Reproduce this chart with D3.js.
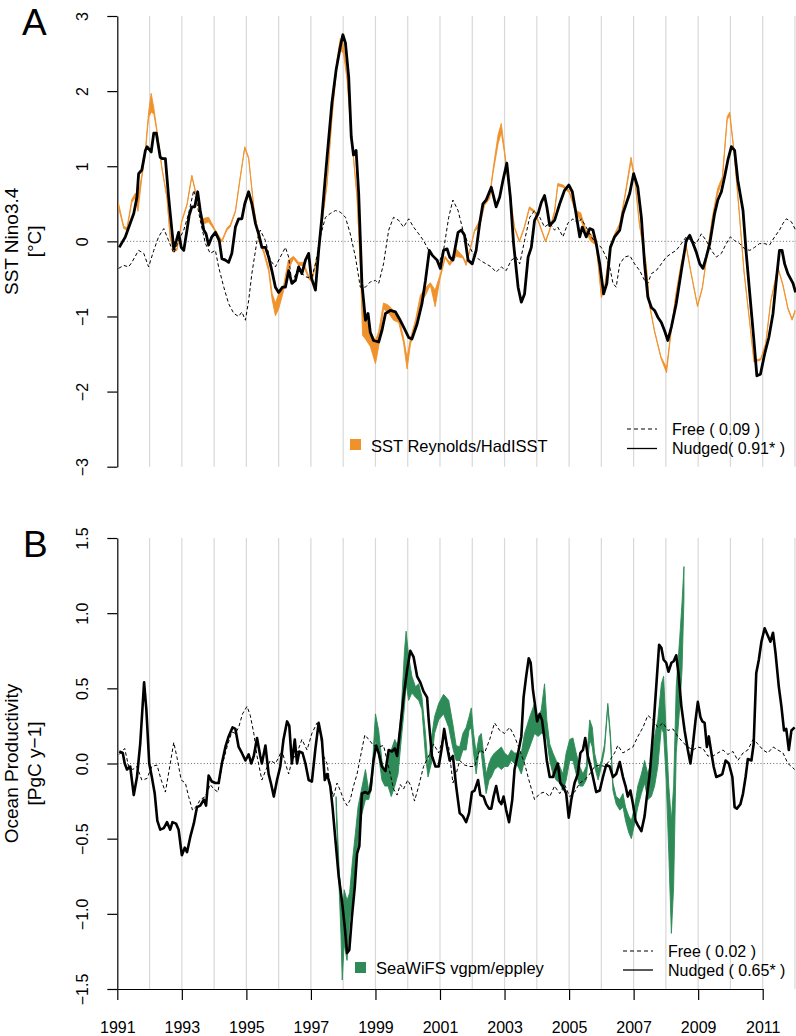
<!DOCTYPE html>
<html><head><meta charset="utf-8">
<script src="https://cdn.jsdelivr.net/npm/d3@7"></script>
<style>
body{margin:0;background:#fff}
svg{display:block}
text{font-family:"Liberation Sans",Arial,Helvetica,sans-serif;fill:#000}
</style></head>
<body><svg id="c" width="796" height="1036"></svg>
<script>
// ---------------- DATA ----------------
const yearGrid = [1992,1993,1994,1995,1996,1997,1998,1999,2000,2001,2002,2003,2004,2005,2006,2007,2008,2009,2010,2011,2012];
const xTickYears = [1991,1993,1995,1997,1999,2001,2003,2005,2007,2009,2011];
const sstTicks = [-3,-2,-1,0,1,2,3];
const nppTicks = [-1.5,-1.0,-0.5,0.0,0.5,1.0,1.5];

// Panel A: observed SST (two products), band between them
const sstTime = [1991.04,1991.20,1991.30,1991.45,1991.56,1991.64,1991.76,1991.87,1991.97,1992.05,
1992.13,1992.23,1992.38,1992.54,1992.64,1992.75,1992.85,1993.00,1993.16,1993.31,
1993.47,1993.62,1993.83,1994.04,1994.24,1994.40,1994.50,1994.66,1994.81,1994.95,
1995.07,1995.23,1995.38,1995.54,1995.69,1995.80,1995.90,1996.00,1996.14,1996.30,
1996.46,1996.62,1996.77,1996.93,1997.03,1997.19,1997.34,1997.50,1997.65,1997.81,
1997.91,1998.01,1998.12,1998.22,1998.32,1998.43,1998.53,1998.60,1998.69,1998.84,
1999.00,1999.10,1999.25,1999.40,1999.56,1999.72,1999.87,1999.98,2000.08,2000.24,
2000.39,2000.55,2000.70,2000.85,2001.00,2001.16,2001.30,2001.50,2001.71,2001.81,
2001.92,2002.07,2002.23,2002.38,2002.54,2002.64,2002.80,2002.90,2003.00,2003.10,
2003.21,2003.31,2003.46,2003.61,2003.77,2003.93,2004.08,2004.27,2004.39,2004.55,
2004.65,2004.81,2005.00,2005.21,2005.36,2005.52,2005.67,2005.84,2006.00,2006.10,
2006.25,2006.41,2006.57,2006.72,2006.92,2007.03,2007.18,2007.28,2007.39,2007.49,
2007.65,2007.85,2008.02,2008.15,2008.31,2008.47,2008.62,2008.77,2008.98,2009.13,
2009.29,2009.44,2009.60,2009.75,2009.90,2009.98,2010.11,2010.27,2010.42,2010.58,
2010.73,2010.94,2011.09,2011.25,2011.47,2011.62,2011.78,2011.91,2012.00];
const sstReynolds = [0.50,0.20,0.18,0.56,0.64,0.60,0.88,1.22,1.72,1.97,
1.78,1.48,0.99,0.59,0.06,-0.10,-0.10,0.28,0.50,0.88,
0.59,0.30,0.32,0.15,0.01,0.18,0.22,0.41,0.86,1.26,
1.12,0.46,0.06,-0.12,-0.34,-0.70,-0.82,-0.70,-0.62,-0.25,
-0.20,-0.28,-0.28,-0.46,-0.50,-0.20,0.25,0.78,1.66,2.42,
2.70,2.62,2.20,1.62,1.12,0.59,-0.28,-0.90,-1.00,-1.20,
-1.32,-1.20,-0.82,-0.85,-0.92,-1.00,-1.28,-1.55,-1.30,-1.05,
-0.72,-0.62,-0.55,-0.65,-0.45,-0.20,-0.28,-0.10,-0.20,-0.28,
-0.12,0.15,0.28,0.50,0.62,0.95,1.42,1.57,1.21,0.86,
0.50,0.19,0.01,0.19,0.46,0.41,0.24,0.01,0.15,0.41,
0.77,0.75,0.68,0.41,0.38,0.15,0.10,-0.03,-0.68,-0.61,
-0.12,0.10,0.24,0.59,1.12,0.86,0.24,-0.03,-0.30,-0.83,
-1.19,-1.54,-1.68,-1.23,-0.70,-0.30,-0.03,-0.39,-0.85,-0.61,
-0.12,0.32,0.70,0.86,1.66,1.72,1.21,0.41,-0.39,-1.00,
-1.59,-1.56,-1.36,-0.79,-0.34,-0.56,-0.88,-1.03,-0.92];
const sstHadISST = [0.45,0.17,0.15,0.52,0.58,0.40,0.84,1.18,1.65,1.72,
1.70,1.45,0.97,0.57,0.04,-0.14,-0.12,0.26,0.48,0.86,
0.56,0.22,0.26,0.13,-0.01,0.15,0.19,0.39,0.84,1.24,
1.10,0.44,0.02,-0.16,-0.40,-0.78,-0.99,-0.90,-0.68,-0.38,
-0.23,-0.32,-0.32,-0.50,-0.54,-0.23,0.22,0.75,1.62,2.35,
2.55,2.50,2.15,1.58,1.10,0.57,-0.32,-1.25,-1.30,-1.40,
-1.63,-1.40,-0.90,-0.95,-1.05,-1.08,-1.35,-1.70,-1.38,-1.12,
-0.82,-0.72,-0.58,-0.87,-0.50,-0.22,-0.32,-0.20,-0.22,-0.32,
-0.14,0.13,0.20,0.48,0.57,0.90,1.30,1.45,1.17,0.83,
0.48,0.17,-0.01,0.17,0.43,0.38,0.22,-0.01,0.13,0.38,
0.74,0.72,0.65,0.38,0.28,0.13,0.00,-0.05,-0.75,-0.65,
-0.15,0.08,0.22,0.56,1.06,0.84,0.22,-0.05,-0.32,-0.85,
-1.21,-1.56,-1.75,-1.25,-0.72,-0.32,-0.05,-0.41,-0.87,-0.63,
-0.14,0.30,0.62,0.82,1.62,1.68,1.19,0.39,-0.41,-1.02,
-1.61,-1.58,-1.38,-0.81,-0.36,-0.58,-0.90,-1.05,-0.94];

// Panel A: model runs [year, value]
const nudgedSst = [[1991.06,-0.08],[1991.25,0.06],[1991.40,0.24],[1991.51,0.37],[1991.61,0.59],[1991.66,0.90],[1991.76,0.95],[1991.87,1.21],[1991.92,1.26],[1992.05,1.19],[1992.13,1.44],[1992.21,1.44],[1992.33,1.12],[1992.40,1.10],[1992.49,1.10],[1992.59,0.59],[1992.67,0.24],[1992.75,-0.10],[1992.83,0.01],[1992.90,0.12],[1992.98,-0.08],[1993.06,-0.12],[1993.16,0.15],[1993.23,0.35],[1993.31,0.46],[1993.40,0.46],[1993.49,0.66],[1993.57,0.41],[1993.68,0.15],[1993.75,0.10],[1993.83,-0.05],[1993.93,0.06],[1994.04,0.12],[1994.16,0.01],[1994.24,-0.23],[1994.35,-0.25],[1994.45,-0.28],[1994.55,-0.16],[1994.66,0.19],[1994.76,0.30],[1994.86,0.30],[1994.95,0.50],[1995.07,0.66],[1995.17,0.50],[1995.28,0.24],[1995.38,0.10],[1995.48,-0.08],[1995.59,-0.08],[1995.69,-0.21],[1995.79,-0.39],[1995.90,-0.61],[1996.00,-0.68],[1996.12,-0.61],[1996.21,-0.61],[1996.31,-0.39],[1996.41,-0.56],[1996.52,-0.52],[1996.62,-0.34],[1996.72,-0.43],[1996.83,-0.25],[1996.93,-0.16],[1997.01,-0.48],[1997.14,-0.65],[1997.24,-0.12],[1997.34,0.32],[1997.50,1.12],[1997.65,1.84],[1997.78,2.28],[1997.91,2.59],[1997.99,2.75],[1998.07,2.64],[1998.17,2.19],[1998.25,1.39],[1998.32,1.15],[1998.40,1.21],[1998.48,0.64],[1998.58,-0.56],[1998.69,-1.05],[1998.77,-0.96],[1998.84,-1.21],[1998.94,-1.32],[1999.10,-1.34],[1999.20,-1.19],[1999.31,-0.96],[1999.46,-0.92],[1999.62,-0.94],[1999.74,-1.03],[1999.87,-1.14],[2000.03,-1.28],[2000.13,-1.30],[2000.29,-1.10],[2000.44,-0.83],[2000.55,-0.52],[2000.67,-0.12],[2000.77,-0.19],[2000.91,-0.25],[2001.01,-0.36],[2001.11,-0.12],[2001.22,-0.10],[2001.30,-0.21],[2001.40,-0.25],[2001.56,0.12],[2001.66,0.15],[2001.76,0.08],[2001.87,-0.25],[2002.00,-0.30],[2002.12,-0.12],[2002.23,0.24],[2002.33,0.50],[2002.43,0.55],[2002.59,0.72],[2002.74,0.46],[2002.85,0.59],[2002.95,0.81],[2003.07,1.04],[2003.18,0.59],[2003.28,-0.03],[2003.42,-0.61],[2003.52,-0.81],[2003.62,-0.70],[2003.73,-0.21],[2003.83,-0.08],[2003.93,0.28],[2004.04,0.37],[2004.14,0.52],[2004.24,0.61],[2004.31,0.46],[2004.40,0.21],[2004.55,0.28],[2004.71,0.50],[2004.86,0.68],[2004.99,0.75],[2005.10,0.66],[2005.20,0.41],[2005.33,0.06],[2005.41,0.19],[2005.53,0.06],[2005.64,0.17],[2005.74,0.15],[2005.84,-0.03],[2005.95,-0.30],[2006.07,-0.70],[2006.17,-0.56],[2006.28,-0.08],[2006.41,0.06],[2006.57,0.15],[2006.67,0.37],[2006.77,0.50],[2006.88,0.64],[2007.00,0.90],[2007.13,0.72],[2007.24,0.32],[2007.34,-0.30],[2007.44,-0.74],[2007.55,-0.88],[2007.65,-0.92],[2007.75,-1.01],[2007.86,-1.08],[2007.96,-1.19],[2008.06,-1.32],[2008.17,-1.14],[2008.32,-0.83],[2008.48,-0.39],[2008.63,0.01],[2008.74,0.08],[2008.84,-0.03],[2008.94,-0.14],[2009.05,-0.30],[2009.15,-0.36],[2009.25,-0.21],[2009.36,-0.03],[2009.51,0.37],[2009.61,0.55],[2009.72,0.66],[2009.82,0.86],[2009.92,1.08],[2010.03,1.26],[2010.13,1.21],[2010.23,0.81],[2010.39,0.41],[2010.49,-0.16],[2010.60,-0.70],[2010.72,-1.28],[2010.82,-1.79],[2010.93,-1.77],[2011.06,-1.50],[2011.19,-1.28],[2011.32,-0.96],[2011.43,-0.48],[2011.52,-0.12],[2011.60,-0.12],[2011.68,-0.30],[2011.78,-0.43],[2011.94,-0.56],[2012.02,-0.68]];

const freeSst = [[1991.04,-0.36],[1991.20,-0.32],[1991.35,-0.34],[1991.45,-0.28],[1991.66,-0.12],[1991.82,-0.16],[1991.97,-0.34],[1992.13,-0.12],[1992.28,0.06],[1992.44,0.17],[1992.59,0.01],[1992.75,-0.16],[1992.90,0.01],[1993.06,0.15],[1993.21,0.37],[1993.37,0.68],[1993.47,0.50],[1993.57,0.28],[1993.73,-0.03],[1993.88,-0.16],[1994.04,-0.12],[1994.14,-0.34],[1994.30,-0.61],[1994.45,-0.83],[1994.61,-0.96],[1994.76,-1.00],[1994.86,-0.94],[1994.97,-1.05],[1995.07,-0.79],[1995.17,-0.43],[1995.33,0.01],[1995.43,0.15],[1995.59,0.01],[1995.74,-0.25],[1995.90,-0.34],[1996.05,-0.21],[1996.21,-0.08],[1996.31,-0.21],[1996.41,-0.56],[1996.57,-0.39],[1996.72,-0.43],[1996.88,-0.48],[1997.03,-0.48],[1997.14,-0.30],[1997.29,0.06],[1997.45,0.32],[1997.60,0.37],[1997.76,0.41],[1997.91,0.39],[1998.07,0.32],[1998.22,0.10],[1998.38,-0.21],[1998.53,-0.61],[1998.69,-0.61],[1998.84,-0.54],[1999.00,-0.52],[1999.10,-0.56],[1999.25,-0.30],[1999.41,0.15],[1999.56,0.32],[1999.72,0.28],[1999.87,0.19],[2000.03,0.30],[2000.18,0.19],[2000.34,0.10],[2000.49,0.01],[2000.65,-0.12],[2000.80,-0.21],[2000.96,-0.30],[2001.11,-0.12],[2001.27,0.32],[2001.40,0.55],[2001.56,0.41],[2001.71,0.15],[2001.87,-0.03],[2002.02,-0.16],[2002.23,-0.25],[2002.43,-0.30],[2002.59,-0.34],[2002.74,-0.41],[2002.90,-0.34],[2003.05,-0.39],[2003.21,-0.25],[2003.36,-0.21],[2003.47,-0.30],[2003.62,0.01],[2003.78,0.32],[2003.93,0.41],[2004.09,0.32],[2004.24,0.19],[2004.40,0.24],[2004.55,0.15],[2004.65,0.19],[2004.81,0.06],[2004.96,0.24],[2005.12,0.30],[2005.27,0.24],[2005.38,0.30],[2005.53,0.19],[2005.69,0.06],[2005.84,-0.03],[2006.00,-0.08],[2006.15,-0.21],[2006.26,-0.34],[2006.36,-0.56],[2006.46,-0.61],[2006.57,-0.30],[2006.72,-0.21],[2006.88,-0.19],[2007.03,-0.30],[2007.19,-0.39],[2007.34,-0.52],[2007.44,-0.56],[2007.55,-0.43],[2007.70,-0.39],[2007.86,-0.30],[2008.01,-0.21],[2008.17,-0.16],[2008.32,-0.12],[2008.48,-0.03],[2008.63,0.06],[2008.79,0.01],[2008.94,-0.03],[2009.10,0.10],[2009.25,0.01],[2009.41,-0.12],[2009.56,-0.21],[2009.72,-0.16],[2009.87,-0.03],[2010.00,0.06],[2010.13,0.01],[2010.29,-0.03],[2010.44,-0.10],[2010.60,-0.12],[2010.75,-0.08],[2010.90,-0.03],[2011.06,-0.03],[2011.21,-0.05],[2011.37,0.06],[2011.52,0.15],[2011.63,0.24],[2011.73,0.30],[2011.89,0.26],[2012.02,0.15]];

// Panel B: observed productivity band [year, high, low]
const seawifs = [[1997.78,-0.22,-0.30],[1997.88,-0.73,-0.86],[1997.93,-0.84,-1.13],[1997.97,-1.04,-1.44],[1998.03,-0.84,-1.20],[1998.12,-0.91,-1.31],[1998.20,-0.86,-1.04],[1998.29,-0.64,-0.91],[1998.38,-0.46,-0.69],[1998.46,-0.29,-0.51],[1998.56,-0.18,-0.35],[1998.69,-0.04,-0.24],[1998.79,-0.18,-0.24],[1998.89,-0.07,-0.15],[1999.00,0.33,0.16],[1999.10,0.22,0.05],[1999.20,0.02,-0.11],[1999.29,-0.07,-0.15],[1999.39,0.05,-0.15],[1999.49,0.09,-0.22],[1999.60,0.16,-0.15],[1999.70,0.11,-0.07],[1999.80,0.36,0.16],[1999.90,0.75,0.38],[1999.95,0.88,0.53],[2000.03,0.71,0.42],[2000.13,0.58,0.47],[2000.24,0.51,0.44],[2000.34,0.53,0.42],[2000.44,0.44,0.36],[2000.55,0.20,0.05],[2000.63,-0.02,-0.09],[2000.73,0.16,0.00],[2000.83,0.31,0.20],[2000.96,0.40,0.29],[2001.11,0.46,0.33],[2001.27,0.42,0.24],[2001.40,0.26,0.10],[2001.50,0.12,0.02],[2001.61,0.11,0.02],[2001.71,0.20,0.09],[2001.81,0.24,0.09],[2001.90,0.31,0.22],[2001.97,0.37,0.24],[2002.04,0.20,0.07],[2002.12,0.07,-0.07],[2002.21,0.18,0.09],[2002.28,0.20,0.07],[2002.35,0.07,-0.07],[2002.43,-0.07,-0.20],[2002.52,0.00,-0.11],[2002.59,0.04,-0.09],[2002.69,0.07,-0.04],[2002.80,0.09,-0.02],[2002.90,0.11,-0.04],[2003.00,0.07,-0.02],[2003.11,0.05,-0.02],[2003.21,0.09,0.02],[2003.31,0.07,0.00],[2003.42,0.07,-0.02],[2003.52,0.07,-0.07],[2003.62,0.20,0.02],[2003.78,0.31,0.11],[2003.93,0.40,0.20],[2004.04,0.29,0.18],[2004.14,0.36,0.20],[2004.24,0.53,0.20],[2004.31,0.29,0.16],[2004.40,0.13,0.02],[2004.50,0.07,-0.07],[2004.60,0.02,-0.11],[2004.71,-0.02,-0.13],[2004.81,-0.07,-0.18],[2004.91,0.07,-0.11],[2005.02,0.16,0.02],[2005.12,0.17,0.02],[2005.22,0.07,-0.07],[2005.33,-0.02,-0.15],[2005.43,-0.07,-0.15],[2005.53,-0.02,-0.11],[2005.64,0.29,0.16],[2005.72,0.24,0.11],[2005.79,0.07,-0.02],[2005.90,-0.04,-0.11],[2006.00,0.02,-0.02],[2006.10,0.13,0.09],[2006.20,0.40,0.38],[2006.28,0.20,0.16],[2006.36,-0.13,-0.18],[2006.46,-0.22,-0.27],[2006.57,-0.24,-0.31],[2006.67,-0.20,-0.29],[2006.75,-0.29,-0.38],[2006.85,-0.35,-0.46],[2006.93,-0.38,-0.50],[2007.03,-0.29,-0.40],[2007.13,-0.15,-0.29],[2007.24,-0.07,-0.20],[2007.34,0.02,-0.13],[2007.44,-0.07,-0.24],[2007.55,0.02,-0.22],[2007.65,0.18,-0.15],[2007.75,0.29,-0.02],[2007.86,0.53,0.24],[2007.93,0.58,0.20],[2008.01,0.20,-0.11],[2008.09,-0.15,-0.60],[2008.17,-0.38,-1.13],[2008.24,-0.15,-0.82],[2008.32,0.51,0.07],[2008.43,0.84,0.38],[2008.50,1.07,0.62],[2008.56,1.31,1.10]];

const nudgedNpp = [[1991.06,0.08],[1991.17,0.07],[1991.23,0.00],[1991.30,-0.04],[1991.40,-0.02],[1991.51,-0.21],[1991.61,-0.09],[1991.71,0.13],[1991.83,0.54],[1991.90,0.36],[1991.99,0.00],[1992.07,-0.09],[1992.16,-0.20],[1992.24,-0.38],[1992.33,-0.44],[1992.44,-0.43],[1992.54,-0.39],[1992.64,-0.44],[1992.71,-0.39],[1992.82,-0.40],[1992.90,-0.44],[1993.00,-0.61],[1993.09,-0.56],[1993.16,-0.59],[1993.26,-0.49],[1993.37,-0.40],[1993.47,-0.29],[1993.57,-0.28],[1993.68,-0.24],[1993.75,-0.28],[1993.83,-0.08],[1993.93,-0.12],[1994.04,-0.13],[1994.14,-0.13],[1994.24,0.00],[1994.35,0.11],[1994.45,0.18],[1994.57,0.24],[1994.66,0.23],[1994.76,0.11],[1994.86,0.07],[1994.97,0.02],[1995.07,0.06],[1995.15,0.00],[1995.23,0.05],[1995.33,0.17],[1995.43,0.05],[1995.48,0.00],[1995.59,0.12],[1995.69,-0.07],[1995.77,-0.14],[1995.85,-0.22],[1995.95,-0.11],[1996.05,-0.02],[1996.15,0.16],[1996.26,0.28],[1996.33,0.25],[1996.41,0.00],[1996.50,0.16],[1996.57,0.00],[1996.64,0.08],[1996.74,0.07],[1996.83,0.00],[1996.93,-0.11],[1997.03,-0.12],[1997.14,0.10],[1997.24,0.27],[1997.34,0.16],[1997.43,-0.11],[1997.50,-0.07],[1997.60,-0.15],[1997.67,-0.29],[1997.76,-0.51],[1997.86,-0.75],[1997.96,-0.91],[1998.05,-1.09],[1998.12,-1.26],[1998.19,-1.24],[1998.27,-1.02],[1998.36,-0.82],[1998.43,-0.60],[1998.50,-0.55],[1998.58,-0.20],[1998.69,-0.19],[1998.77,-0.20],[1998.84,-0.18],[1998.94,0.02],[1999.02,0.12],[1999.10,0.07],[1999.20,-0.02],[1999.31,-0.05],[1999.41,0.09],[1999.51,0.08],[1999.60,0.10],[1999.67,0.05],[1999.77,0.24],[1999.87,0.44],[1999.98,0.62],[2000.08,0.75],[2000.18,0.71],[2000.29,0.58],[2000.39,0.54],[2000.49,0.48],[2000.60,0.44],[2000.65,0.29],[2000.75,0.05],[2000.86,-0.02],[2000.96,-0.02],[2001.06,0.11],[2001.13,0.23],[2001.22,0.11],[2001.30,0.02],[2001.40,0.05],[2001.50,-0.15],[2001.61,-0.33],[2001.71,-0.35],[2001.81,-0.39],[2001.90,-0.33],[2001.99,-0.19],[2002.07,-0.18],[2002.18,-0.11],[2002.25,-0.21],[2002.35,-0.22],[2002.43,-0.27],[2002.52,-0.30],[2002.59,-0.30],[2002.66,-0.22],[2002.74,-0.15],[2002.83,-0.25],[2002.90,-0.27],[2002.97,-0.22],[2003.05,-0.31],[2003.14,-0.39],[2003.24,-0.24],[2003.31,-0.04],[2003.42,0.07],[2003.52,0.18],[2003.59,0.44],[2003.67,0.58],[2003.75,0.70],[2003.81,0.67],[2003.88,0.49],[2003.95,0.38],[2004.01,0.28],[2004.09,0.33],[2004.16,0.29],[2004.24,0.16],[2004.31,0.02],[2004.40,-0.09],[2004.50,-0.09],[2004.58,-0.04],[2004.65,0.00],[2004.73,-0.13],[2004.81,-0.15],[2004.91,-0.20],[2004.99,-0.36],[2005.07,-0.24],[2005.17,-0.13],[2005.27,-0.07],[2005.35,0.07],[2005.43,0.09],[2005.50,0.17],[2005.58,0.05],[2005.69,-0.04],[2005.76,-0.11],[2005.84,-0.19],[2005.95,-0.18],[2006.05,-0.09],[2006.15,-0.01],[2006.26,-0.02],[2006.36,-0.09],[2006.46,-0.07],[2006.57,0.01],[2006.67,-0.09],[2006.75,-0.15],[2006.82,-0.22],[2006.90,-0.18],[2006.98,-0.27],[2007.06,-0.38],[2007.13,-0.41],[2007.24,-0.45],[2007.34,-0.35],[2007.41,-0.22],[2007.50,-0.07],[2007.60,0.20],[2007.70,0.51],[2007.79,0.79],[2007.86,0.77],[2007.93,0.69],[2008.01,0.67],[2008.08,0.61],[2008.17,0.67],[2008.24,0.68],[2008.32,0.72],[2008.39,0.60],[2008.48,0.38],[2008.58,0.22],[2008.68,0.09],[2008.76,0.00],[2008.84,0.13],[2008.92,0.29],[2008.99,0.41],[2009.07,0.31],[2009.13,0.28],[2009.20,0.27],[2009.27,0.11],[2009.33,0.18],[2009.41,0.07],[2009.48,-0.02],[2009.56,-0.09],[2009.67,-0.08],[2009.75,-0.07],[2009.85,0.02],[2009.95,0.00],[2010.06,-0.09],[2010.13,-0.29],[2010.20,-0.30],[2010.31,-0.27],[2010.39,-0.20],[2010.47,-0.09],[2010.54,0.03],[2010.65,0.02],[2010.72,0.13],[2010.80,0.60],[2010.88,0.69],[2010.96,0.81],[2011.06,0.90],[2011.16,0.85],[2011.24,0.81],[2011.32,0.87],[2011.40,0.73],[2011.50,0.51],[2011.58,0.38],[2011.66,0.22],[2011.73,0.23],[2011.81,0.09],[2011.89,0.22],[2011.99,0.24]];

const freeNpp = [[1991.06,0.06],[1991.23,0.10],[1991.35,-0.02],[1991.48,-0.04],[1991.61,-0.02],[1991.76,-0.11],[1991.92,-0.10],[1992.07,-0.02],[1992.23,-0.01],[1992.36,-0.11],[1992.49,-0.19],[1992.61,-0.04],[1992.75,0.14],[1992.85,0.04],[1992.98,-0.11],[1993.11,-0.13],[1993.21,-0.22],[1993.33,-0.31],[1993.47,-0.28],[1993.57,-0.24],[1993.73,-0.22],[1993.88,-0.14],[1993.99,-0.17],[1994.12,-0.19],[1994.24,-0.02],[1994.40,0.11],[1994.55,0.21],[1994.66,0.20],[1994.76,0.24],[1994.88,0.33],[1995.02,0.38],[1995.12,0.32],[1995.23,0.20],[1995.33,0.05],[1995.48,-0.11],[1995.61,-0.04],[1995.74,0.02],[1995.90,0.00],[1996.00,0.04],[1996.10,0.09],[1996.21,0.00],[1996.31,-0.07],[1996.41,0.02],[1996.57,0.07],[1996.72,0.16],[1996.88,0.09],[1997.03,0.20],[1997.19,0.27],[1997.29,0.20],[1997.39,0.05],[1997.50,0.00],[1997.60,-0.15],[1997.70,-0.22],[1997.81,-0.13],[1997.91,-0.18],[1998.01,-0.24],[1998.12,-0.28],[1998.22,-0.24],[1998.32,-0.15],[1998.43,-0.07],[1998.53,0.04],[1998.67,0.19],[1998.79,0.16],[1998.94,0.12],[1999.10,0.11],[1999.25,0.12],[1999.36,0.02],[1999.46,-0.07],[1999.56,-0.17],[1999.67,-0.21],[1999.77,-0.14],[1999.87,-0.17],[2000.00,-0.11],[2000.10,-0.15],[2000.21,-0.25],[2000.34,-0.15],[2000.49,-0.02],[2000.65,0.05],[2000.80,0.13],[2000.96,0.07],[2001.11,0.18],[2001.27,0.11],[2001.40,-0.13],[2001.50,-0.07],[2001.61,0.02],[2001.76,-0.01],[2001.92,-0.02],[2002.07,-0.02],[2002.23,0.09],[2002.38,0.07],[2002.54,0.16],[2002.69,0.27],[2002.85,0.22],[2003.00,0.20],[2003.16,0.24],[2003.31,0.18],[2003.47,0.09],[2003.62,0.00],[2003.78,-0.13],[2003.93,-0.24],[2004.09,-0.20],[2004.24,-0.19],[2004.40,-0.22],[2004.55,-0.15],[2004.71,-0.20],[2004.86,-0.14],[2005.02,-0.22],[2005.17,-0.19],[2005.33,-0.13],[2005.48,-0.11],[2005.64,-0.07],[2005.79,-0.02],[2005.95,-0.01],[2006.10,-0.02],[2006.26,0.02],[2006.41,0.07],[2006.51,0.12],[2006.67,0.07],[2006.82,0.09],[2006.98,0.11],[2007.13,0.18],[2007.29,0.24],[2007.44,0.32],[2007.60,0.29],[2007.75,0.24],[2007.91,0.27],[2008.06,0.22],[2008.22,0.23],[2008.37,0.18],[2008.53,0.14],[2008.68,0.11],[2008.84,0.09],[2008.99,0.11],[2009.15,0.10],[2009.30,0.05],[2009.46,0.05],[2009.61,0.07],[2009.77,0.09],[2009.92,0.06],[2010.08,0.08],[2010.23,0.02],[2010.39,0.07],[2010.54,0.09],[2010.70,0.16],[2010.85,0.13],[2011.01,0.09],[2011.16,0.07],[2011.32,0.11],[2011.47,0.09],[2011.63,0.07],[2011.78,0.00],[2011.89,-0.02],[2011.99,-0.04]];

// ---------------- DRAWING ----------------
const ORANGE = "#F0922B", GREEN = "#2E8B57";
const svg = d3.select("#c");
const x = d3.scaleLinear().domain([1991, 2011]).range([117.3, 762.7]);
const yA = d3.scaleLinear().domain([-3, 3]).range([466.7, 16]);
const yB = d3.scaleLinear().domain([-1.5, 1.5]).range([989, 538]);

svg.append("defs").append("clipPath").attr("id","plotclip")
  .append("rect").attr("x",117.3).attr("y",0).attr("width",700).attr("height",1036);

function panel(y, ticks, fmt) {
  const g = svg.append("g");
  // vertical year grid
  g.selectAll("line.grid").data(yearGrid).join("line")
    .attr("x1", d => x(d)).attr("x2", d => x(d))
    .attr("y1", y.range()[1]).attr("y2", y.range()[0])
    .attr("stroke", "#d8d8d8").attr("stroke-width", 1.2);
  // zero line
  g.append("line").attr("x1", x(1991)).attr("x2", 796)
    .attr("y1", y(0)).attr("y2", y(0))
    .attr("stroke", "#555").attr("stroke-width", 0.9).attr("stroke-dasharray", "1,2.2");
  // y axis
  const ax = g.append("g").attr("transform", `translate(${x(1991)},0)`)
    .call(d3.axisLeft(y).tickValues(ticks).tickSize(10).tickSizeOuter(0).tickFormat(fmt));
  ax.select(".domain").attr("stroke", "#000").attr("stroke-width", 1.2);
  ax.selectAll(".tick line").attr("stroke", "#000").attr("stroke-width", 1.2);
  ax.selectAll(".tick text")
    .attr("x", 0).attr("dy", null).attr("y", -29.5)
    .attr("transform", "rotate(-90)")
    .attr("text-anchor", "middle")
    .style("font-family", '"Liberation Sans",Arial,Helvetica,sans-serif')
    .style("font-size", "16px");
  return g.append("g").attr("clip-path", "url(#plotclip)");
}

const minusFmt = s => s.replace("-", "\u2212");
const gA = panel(yA, sstTicks, d => minusFmt(d3.format("d")(d)));
const gB = panel(yB, nppTicks, d => minusFmt(d3.format(".1f")(d)));

// ---- Panel A marks ----
const sstRows = sstTime.map((t, i) => ({t, a: sstReynolds[i], b: sstHadISST[i]}));
gA.append("path").datum(sstRows)
  .attr("d", d3.area().x(d => x(d.t)).y0(d => yA(d.a)).y1(d => yA(d.b)))
  .attr("fill", ORANGE).attr("stroke", ORANGE).attr("stroke-width", 0.9).attr("stroke-linejoin","round");
const lineA = d3.line().x(d => x(d[0])).y(d => yA(d[1]));
gA.append("path").datum(freeSst).attr("d", lineA)
  .attr("fill", "none").attr("stroke", "#000").attr("stroke-width", 1).attr("stroke-dasharray", "3.5,2.5");
gA.append("path").datum(nudgedSst).attr("d", lineA)
  .attr("fill", "none").attr("stroke", "#000").attr("stroke-width", 2.8).attr("stroke-linejoin","round");

// ---- Panel B marks ----
gB.append("path").datum(seawifs)
  .attr("d", d3.area().x(d => x(d[0])).y0(d => yB(d[1])).y1(d => yB(d[2])))
  .attr("fill", GREEN).attr("stroke", GREEN).attr("stroke-width", 0.9).attr("stroke-linejoin","round");
const lineB = d3.line().x(d => x(d[0])).y(d => yB(d[1]));
gB.append("path").datum(freeNpp).attr("d", lineB)
  .attr("fill", "none").attr("stroke", "#000").attr("stroke-width", 1).attr("stroke-dasharray", "3.5,2.5");
gB.append("path").datum(nudgedNpp).attr("d", lineB)
  .attr("fill", "none").attr("stroke", "#000").attr("stroke-width", 2.6).attr("stroke-linejoin","round");

// ---- bottom x axis ----
const xa = svg.append("g").attr("transform", `translate(0,${yB(-1.5)})`)
  .call(d3.axisBottom(x).tickValues(xTickYears).tickSize(11).tickSizeOuter(0).tickFormat(d3.format("d")));
xa.select(".domain").attr("stroke", "#000").attr("stroke-width", 1.2);
xa.selectAll(".tick line").attr("stroke", "#000").attr("stroke-width", 1.2);
xa.selectAll(".tick text").attr("y", 44).attr("dy", null)
  .style("font-family", '"Liberation Sans",Arial,Helvetica,sans-serif').style("font-size", "16px");

// ---- axis titles ----
function ytitle(lines, cy) {
  lines.forEach((s, i) => {
    svg.append("text").attr("transform", `translate(${i === 0 ? 18 : 41},${cy}) rotate(-90)`)
      .attr("text-anchor", "middle").style("font-size", "19px").text(s);
  });
}
ytitle(["SST Nino3.4", "[°C]"], (yA(3) + yA(-3)) / 2);
ytitle(["Ocean Productivity", "[PgC y\u22121]"], (yB(1.5) + yB(-1.5)) / 2);

// panel letters
svg.append("text").attr("x", 22).attr("y", 35).style("font-size", "37px").text("A");
svg.append("text").attr("x", 23).attr("y", 557).style("font-size", "37px").text("B");

// ---- legends ----
function legend(box, fill, label, ly, free, nudged, fy) {
  svg.append("rect").attr("x", box[0]).attr("y", box[1]).attr("width", 11).attr("height", 11).attr("fill", fill);
  svg.append("text").attr("x", box[0] + 21).attr("y", ly).style("font-size", "16.5px").text(label);
  svg.append("line").attr("x1", fy[0]).attr("x2", fy[0] + 30).attr("y1", fy[1]).attr("y2", fy[1])
    .attr("stroke", "#000").attr("stroke-width", 1).attr("stroke-dasharray", "4,3");
  svg.append("text").attr("x", fy[0] + 45).attr("y", fy[1] + 5.5).style("font-size", "16px").text(free);
  svg.append("line").attr("x1", fy[0]).attr("x2", fy[0] + 30).attr("y1", fy[2]).attr("y2", fy[2])
    .attr("stroke", "#000").attr("stroke-width", 1.3);
  svg.append("text").attr("x", fy[0] + 45).attr("y", fy[2] + 5.5).style("font-size", "16px").text(nudged);
}
legend([350, 439], ORANGE, "SST Reynolds/HadISST", 452, "Free ( 0.09 )", "Nudged( 0.91* )", [627, 429, 448.5]);
legend([355, 962], GREEN, "SeaWiFS vgpm/eppley", 974, "Free ( 0.02 )", "Nudged ( 0.65* )", [623, 951, 970]);
</script></body></html>
